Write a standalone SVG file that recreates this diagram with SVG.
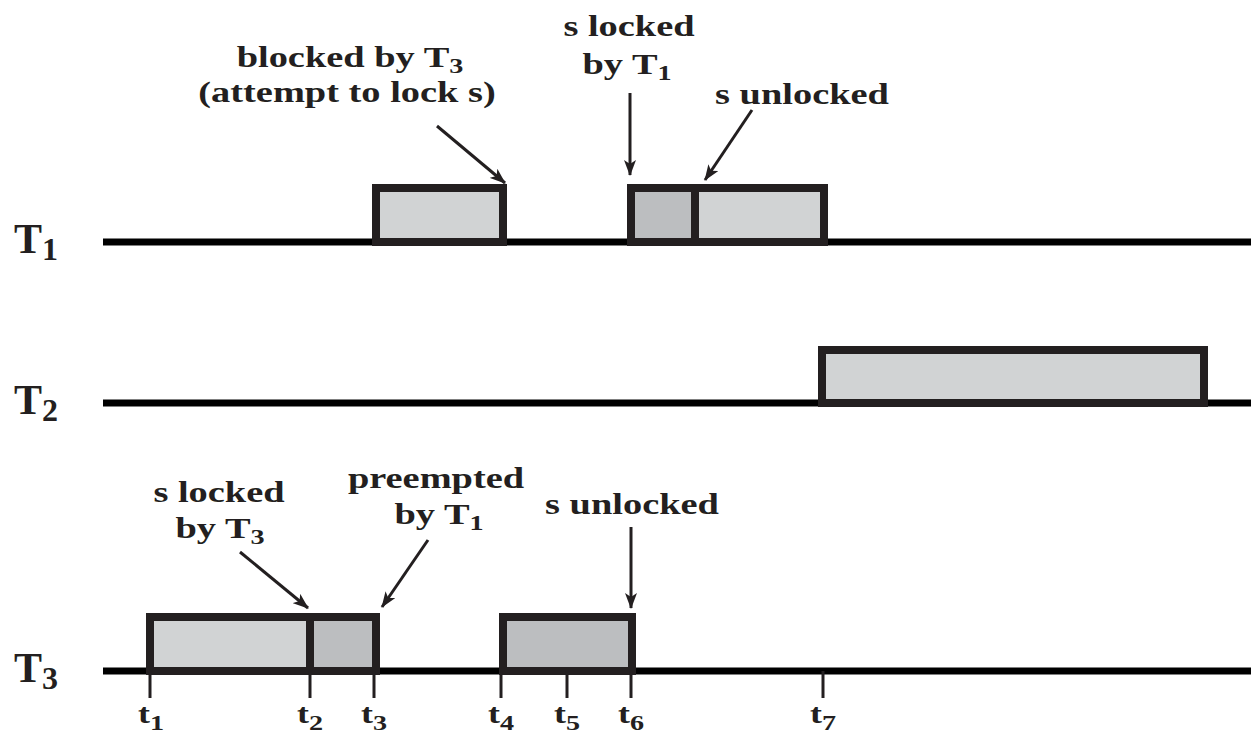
<svg xmlns="http://www.w3.org/2000/svg" width="1251" height="733" viewBox="0 0 1251 733">
<style>
.bg{fill:#ffffff}
.axis{stroke:#000000;stroke-width:7;fill:none}
.box{stroke:#231f20;stroke-width:8;stroke-linejoin:miter}
.lite{fill:#d1d3d4}
.dark{fill:#bcbec0}
.div{stroke:#231f20;stroke-width:8}
.tick{stroke:#231f20;stroke-width:3}
.arr{stroke:#231f20;stroke-width:3;fill:none;marker-end:url(#ah)}
.lbl{font-family:"Liberation Serif","Times New Roman",serif;font-weight:bold;font-size:30px;fill:#231f20;text-anchor:middle}
.task{font-family:"Liberation Serif","Times New Roman",serif;font-weight:bold;font-size:42px;fill:#231f20}
.tl{font-family:"Liberation Serif","Times New Roman",serif;font-weight:bold;font-size:28px;fill:#231f20}
.sub{font-size:22px}
.tsub{font-size:32px}
</style>
<defs>
<marker id="ah" viewBox="0 0 16 12" markerWidth="16" markerHeight="12" refX="15" refY="6" orient="auto" markerUnits="userSpaceOnUse">
<path d="M0,0 L16,6 L0,12 L4,6 z" fill="#231f20"/>
</marker>
</defs>
<rect class="bg" x="0" y="0" width="1251" height="733"/>

<g id="T1">
<line class="axis" x1="103" y1="242" x2="1251" y2="242"/>
<rect class="box lite" x="376" y="188" width="127" height="54"/>
<rect class="box lite" x="631" y="188" width="193" height="54"/>
<rect class="dark" x="635" y="192" width="60" height="46"/>
<line class="div" x1="695" y1="188" x2="695" y2="242"/>
<text class="task" x="14" y="253">T<tspan class="tsub" dy="7">1</tspan></text>
</g>

<g id="T2">
<line class="axis" x1="103" y1="403" x2="1251" y2="403"/>
<rect class="box lite" x="822" y="350" width="382" height="53"/>
<text class="task" x="14" y="414">T<tspan class="tsub" dy="7">2</tspan></text>
</g>

<g id="T3">
<line class="axis" x1="103" y1="671" x2="1251" y2="671"/>
<rect class="box lite" x="150" y="617" width="226" height="54"/>
<rect class="dark" x="310" y="621" width="62" height="46"/>
<line class="div" x1="310" y1="617" x2="310" y2="671"/>
<rect class="box dark" x="503" y="617" width="129" height="54"/>
<text class="task" x="14" y="682">T<tspan class="tsub" dy="7">3</tspan></text>
</g>

<g id="ticks">
<line class="tick" x1="150" y1="671" x2="150" y2="698"/>
<line class="tick" x1="310" y1="671" x2="310" y2="698"/>
<line class="tick" x1="374" y1="671" x2="374" y2="698"/>
<line class="tick" x1="501" y1="671" x2="501" y2="698"/>
<line class="tick" x1="567" y1="671" x2="567" y2="698"/>
<line class="tick" x1="631" y1="671" x2="631" y2="698"/>
<line class="tick" x1="823" y1="671" x2="823" y2="698"/>
<text class="tl" transform="translate(138,723) scale(1.28,1)">t<tspan class="sub" dy="7">1</tspan></text>
<text class="tl" transform="translate(297,723) scale(1.28,1)">t<tspan class="sub" dy="7">2</tspan></text>
<text class="tl" transform="translate(361,723) scale(1.28,1)">t<tspan class="sub" dy="7">3</tspan></text>
<text class="tl" transform="translate(488,723) scale(1.28,1)">t<tspan class="sub" dy="7">4</tspan></text>
<text class="tl" transform="translate(554,723) scale(1.28,1)">t<tspan class="sub" dy="7">5</tspan></text>
<text class="tl" transform="translate(618,723) scale(1.28,1)">t<tspan class="sub" dy="7">6</tspan></text>
<text class="tl" transform="translate(810,723) scale(1.28,1)">t<tspan class="sub" dy="7">7</tspan></text>
</g>

<g id="labels">
<text class="lbl" transform="translate(350,67) scale(1.28,1)">blocked by T<tspan class="sub" dy="6">3</tspan></text>
<text class="lbl" transform="translate(347,102) scale(1.28,1)">(attempt to lock s)</text>
<text class="lbl" transform="translate(629,36) scale(1.28,1)">s locked</text>
<text class="lbl" transform="translate(627,74) scale(1.28,1)">by T<tspan class="sub" dy="6">1</tspan></text>
<text class="lbl" transform="translate(802,104) scale(1.28,1)">s unlocked</text>
<text class="lbl" transform="translate(219,502) scale(1.28,1)">s locked</text>
<text class="lbl" transform="translate(220,538) scale(1.28,1)">by T<tspan class="sub" dy="6">3</tspan></text>
<text class="lbl" transform="translate(436,488) scale(1.28,1)">preempted</text>
<text class="lbl" transform="translate(439,524) scale(1.28,1)">by T<tspan class="sub" dy="6">1</tspan></text>
<text class="lbl" transform="translate(632,514) scale(1.28,1)">s unlocked</text>
</g>

<g id="connectors">
<line class="arr" x1="437" y1="126" x2="505" y2="183"/>
<line class="arr" x1="630" y1="93" x2="630" y2="175"/>
<line class="arr" x1="752" y1="110" x2="705" y2="180"/>
<line class="arr" x1="240" y1="552" x2="308" y2="608"/>
<line class="arr" x1="428" y1="540" x2="382" y2="607"/>
<line class="arr" x1="631" y1="527" x2="631" y2="608"/>
</g>
</svg>
